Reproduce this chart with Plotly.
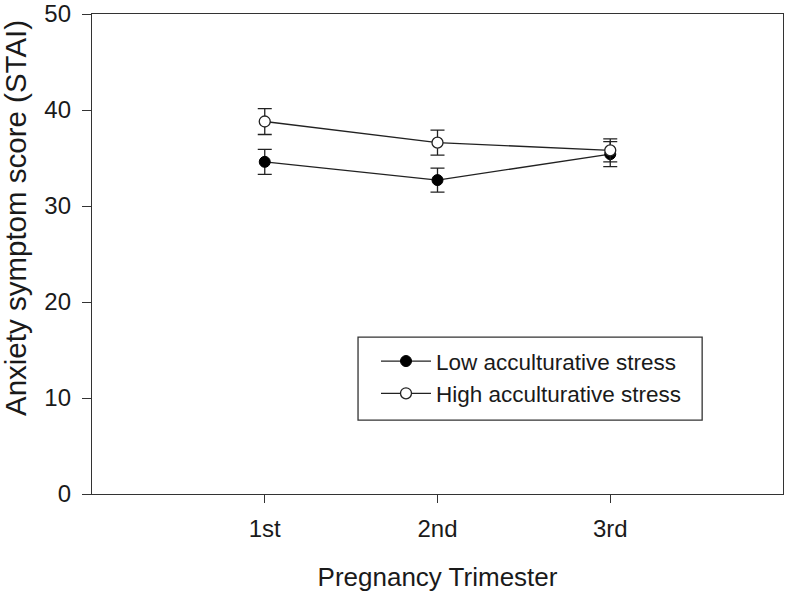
import plotly.graph_objects as go

trimesters = ["1st", "2nd", "3rd"]
x_pos = [1, 2, 3]
low_mean = [34.6, 32.7, 35.4]
low_err = [1.3, 1.25, 1.3]
high_mean = [38.8, 36.6, 35.8]
high_err = [1.35, 1.3, 1.2]

fig = go.Figure()
fig.add_trace(go.Scatter(
    x=x_pos, y=low_mean, name="Low acculturative stress", mode="lines+markers",
    line=dict(color="#222", width=1.3),
    marker=dict(symbol="circle", size=11, color="black", line=dict(color="black", width=1)),
    error_y=dict(type="data", array=low_err, color="#222", thickness=1.3, width=7),
))
fig.add_trace(go.Scatter(
    x=x_pos, y=high_mean, name="High acculturative stress", mode="lines+markers",
    line=dict(color="#222", width=1.3),
    marker=dict(symbol="circle", size=11, color="white", line=dict(color="#222", width=1.3)),
    error_y=dict(type="data", array=high_err, color="#222", thickness=1.3, width=7),
))

# legend frame
fig.add_shape(type="rect", xref="paper", yref="paper",
              x0=0.385, x1=0.883, y0=0.154, y1=0.327,
              line=dict(color="#333", width=1.3), fillcolor="rgba(0,0,0,0)", layer="above")

fig.add_annotation(text="Anxiety symptom score (STAI)", textangle=-90,
                   xref="paper", yref="paper", x=-0.1114, y=0.575,
                   xanchor="center", yanchor="middle", showarrow=False,
                   font=dict(size=29.5))

fig.update_layout(
    width=800, height=592,
    margin=dict(l=92, r=17, t=14, b=98),
    paper_bgcolor="white", plot_bgcolor="white",
    font=dict(family="Liberation Sans, Arial, sans-serif", size=24, color="#1a1a1a"),
    showlegend=True,
    legend=dict(x=0.411, y=0.321, xanchor="left", yanchor="top",
                borderwidth=0, bgcolor="rgba(0,0,0,0)",
                font=dict(size=22.5), itemwidth=50, tracegroupgap=0),
    xaxis=dict(range=[0, 4], tickmode="array", tickvals=x_pos, ticktext=trimesters,
               showline=True, linecolor="#333", linewidth=1.3, mirror=True, automargin=False,
               ticks="outside", ticklen=8, tickcolor="#333", showgrid=False, zeroline=False,
               tickfont=dict(size=24), ticklabelstandoff=5, ticklabeloverflow="allow",
               title=dict(text="Pregnancy Trimester", standoff=30, font=dict(size=26))),
    yaxis=dict(range=[0, 50], tickvals=[0, 10, 20, 30, 40, 50],
               showline=True, linecolor="#333", linewidth=1.3, mirror=True, automargin=False,
               ticks="outside", ticklen=9, tickcolor="#333", showgrid=False, zeroline=False,
               tickfont=dict(size=24), ticklabelstandoff=6, ticklabeloverflow="allow"),
)

fig.write_html("out.html", config={"displayModeBar": False},
               post_script="document.body.style.margin='0';document.body.style.overflow='hidden';")
